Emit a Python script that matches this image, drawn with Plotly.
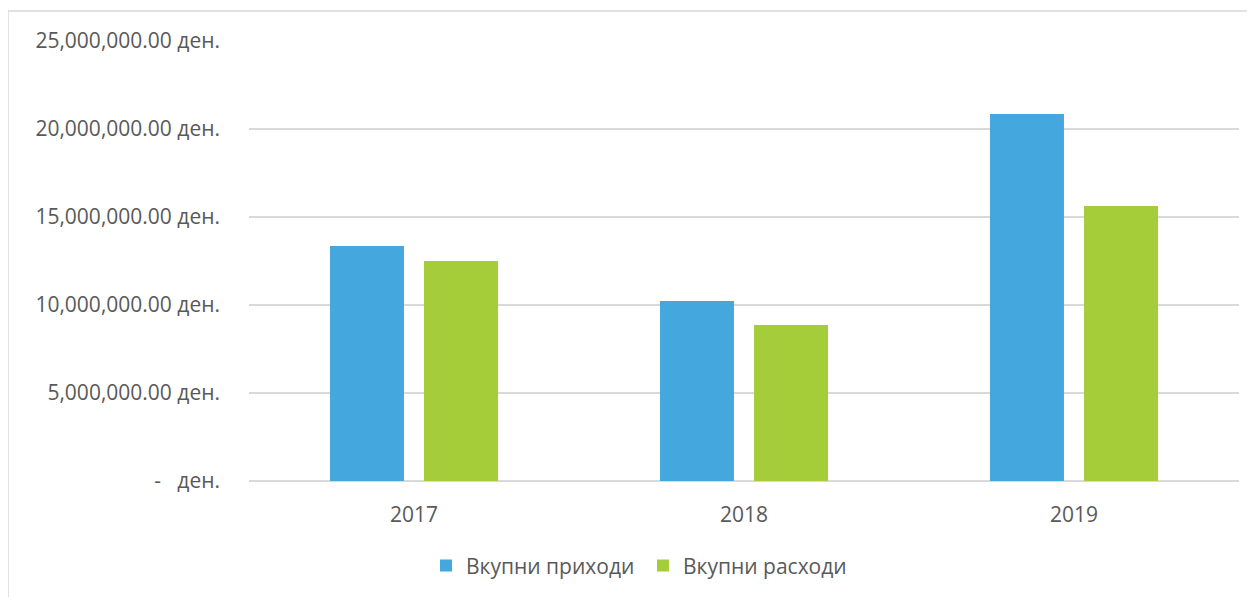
import plotly.graph_objects as go

years = ["2017", "2018", "2019"]
income = [13350000, 10230000, 20850000]
expenses = [12500000, 8860000, 15630000]
series_names = ["Вкупни приходи", "Вкупни расходи"]
tick_vals = [0, 5000000, 10000000, 15000000, 20000000, 25000000]
tick_text = ["-\u00a0\u00a0\u00a0ден.", "5,000,000.00 ден.", "10,000,000.00 ден.",
             "15,000,000.00 ден.", "20,000,000.00 ден.", "25,000,000.00 ден."]

FONT = "Open Sans"
TXT = "#595959"
FS = 21

fig = go.Figure()
fig.add_trace(go.Bar(x=years, y=income, name=series_names[0], marker_color="#44A8DF",
                     marker_line_width=0))
fig.add_trace(go.Bar(x=years, y=expenses, name=series_names[1], marker_color="#A5CD39",
                     marker_line_width=0))

fig.update_layout(
    width=1255, height=597,
    margin=dict(l=241, r=24, t=33, b=124),
    paper_bgcolor="white", plot_bgcolor="white",
    barmode="group", bargap=0.43, bargroupgap=0.213,
    font=dict(family=FONT, size=FS, color=TXT),
    showlegend=True,
    legend=dict(orientation="h", x=(443 - 8 - 241 - 6 - 11) / 990, xanchor="left",
                y=-0.193, yanchor="middle",
                font=dict(family=FONT, size=FS, color=TXT), itemwidth=30,
                entrywidth=172, entrywidthmode="pixels",
                traceorder="normal"),
    shapes=[dict(type="rect", xref="paper", yref="paper",
                 x0=-241 / 990, x1=1.2, y0=-1, y1=(481 - 11) / 440,
                 line=dict(color="#D9D9D9", width=1.5), fillcolor="rgba(0,0,0,0)", layer="below")],
)
fig.update_xaxes(showgrid=False, showline=False, ticks="", ticklabelstandoff=19,
                 tickfont=dict(family=FONT, size=FS, color=TXT))
fig.update_yaxes(range=[0, 25000000], tickvals=tick_vals, ticktext=tick_text,
                 showgrid=True, gridcolor="#D9D9D9", gridwidth=1.5,
                 zeroline=True, zerolinecolor="#D9D9D9", zerolinewidth=1.5,
                 showline=False, ticks="", ticklabelstandoff=28,
                 tickfont=dict(family=FONT, size=FS, color=TXT))

fig.write_html("out.html")
